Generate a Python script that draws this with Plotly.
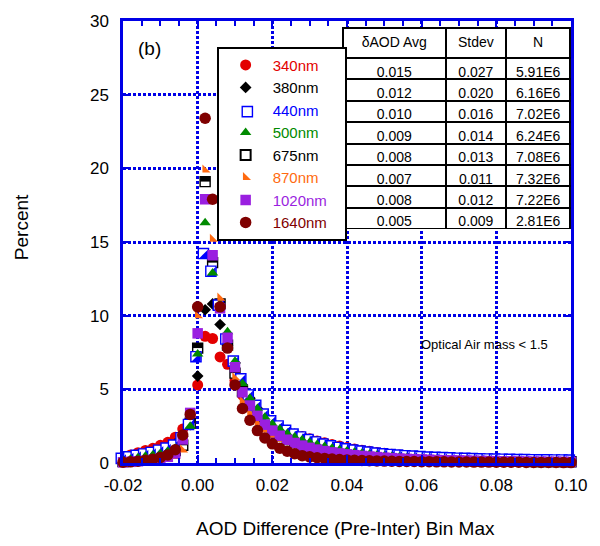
import plotly.graph_objects as go

# ---------------- data ----------------
x_bins = [-0.020, -0.018, -0.016, -0.014, -0.012, -0.010, -0.008, -0.006, -0.004, -0.002,
          0.000, 0.002, 0.004, 0.006, 0.008, 0.010, 0.012, 0.014, 0.016, 0.018,
          0.020, 0.022, 0.024, 0.026, 0.028, 0.030, 0.032, 0.034, 0.036, 0.038,
          0.040, 0.042, 0.044, 0.046, 0.048, 0.050, 0.052, 0.054, 0.056, 0.058,
          0.060, 0.062, 0.064, 0.066, 0.068, 0.070, 0.072, 0.074, 0.076, 0.078,
          0.080, 0.082, 0.084, 0.086, 0.088, 0.090, 0.092, 0.094, 0.096, 0.098,
          0.100]

pct_340 = [0.40, 0.55, 0.70, 0.85, 1.00, 1.20, 1.40, 1.75, 2.30, 3.00,
           5.30, 8.60, 8.45, 7.20, 6.70, 5.60, 4.60, 3.90, 3.30, 2.90,
           2.55, 2.30, 2.10, 1.95, 1.80, 1.65, 1.50, 1.38, 1.25, 1.15,
           1.05, 0.95, 0.87, 0.79, 0.72, 0.66, 0.60, 0.55, 0.50, 0.45,
           0.40, 0.38, 0.36, 0.34, 0.32, 0.30, 0.29, 0.28, 0.26, 0.25,
           0.24, 0.23, 0.22, 0.21, 0.20, 0.19, 0.18, 0.18, 0.17, 0.16,
           0.16]
pct_380 = [0.25, 0.35, 0.45, 0.55, 0.70, 0.85, 1.00, 1.30, 1.80, 2.60,
           5.90, 10.40, 10.80, 9.40, 8.00, 6.80, 5.30, 4.40, 3.70, 3.20,
           2.75, 2.45, 2.20, 1.95, 1.75, 1.58, 1.43, 1.30, 1.18, 1.07,
           0.97, 0.88, 0.80, 0.72, 0.65, 0.59, 0.54, 0.49, 0.44, 0.40,
           0.36, 0.34, 0.32, 0.30, 0.28, 0.27, 0.25, 0.24, 0.23, 0.22,
           0.21, 0.20, 0.19, 0.18, 0.17, 0.17, 0.16, 0.15, 0.15, 0.14,
           0.14]
pct_440 = [0.20, 0.30, 0.40, 0.50, 0.60, 0.75, 0.90, 1.10, 1.60, 2.50,
           7.10, 14.10, 12.90, 10.60, 8.30, 6.80, 5.60, 4.50, 3.80, 3.20,
           2.75, 2.40, 2.10, 1.85, 1.65, 1.47, 1.31, 1.17, 1.05, 0.94,
           0.85, 0.76, 0.69, 0.62, 0.56, 0.51, 0.46, 0.42, 0.38, 0.35,
           0.32, 0.29, 0.27, 0.25, 0.23, 0.21, 0.20, 0.18, 0.17, 0.16,
           0.15, 0.14, 0.13, 0.12, 0.12, 0.11, 0.10, 0.10, 0.09, 0.09,
           0.08]
pct_500 = [0.15, 0.25, 0.35, 0.45, 0.55, 0.65, 0.80, 1.00, 1.50, 2.50,
           7.40, 16.30, 12.90, 10.80, 8.90, 6.90, 5.40, 4.40, 3.70, 3.10,
           2.65, 2.30, 2.00, 1.77, 1.57, 1.40, 1.25, 1.12, 1.00, 0.90,
           0.81, 0.73, 0.66, 0.59, 0.53, 0.48, 0.44, 0.40, 0.36, 0.33,
           0.30, 0.27, 0.25, 0.23, 0.21, 0.19, 0.18, 0.17, 0.16, 0.15,
           0.14, 0.13, 0.12, 0.11, 0.11, 0.10, 0.09, 0.09, 0.08, 0.08,
           0.07]
pct_675 = [0.10, 0.20, 0.30, 0.40, 0.50, 0.60, 0.70, 0.85, 1.20, 2.70,
           7.80, 19.10, 13.60, 10.80, 8.00, 6.10, 4.85, 3.90, 3.22, 2.63,
           2.22, 1.87, 1.60, 1.38, 1.20, 1.05, 0.93, 0.83, 0.74, 0.67,
           0.61, 0.55, 0.50, 0.46, 0.42, 0.38, 0.35, 0.32, 0.30, 0.28,
           0.26, 0.24, 0.22, 0.21, 0.20, 0.19, 0.18, 0.17, 0.16, 0.15,
           0.14, 0.13, 0.12, 0.11, 0.11, 0.10, 0.10, 0.09, 0.09, 0.09,
           0.08]
pct_870 = [0.05, 0.08, 0.12, 0.16, 0.20, 0.25, 0.30, 0.45, 0.90, 3.30,
           10.00, 19.90, 15.20, 11.20, 7.80, 5.80, 4.20, 3.40, 2.75, 2.25,
           1.90, 1.62, 1.40, 1.22, 1.07, 0.95, 0.85, 0.76, 0.68, 0.61,
           0.55, 0.50, 0.45, 0.41, 0.37, 0.34, 0.31, 0.28, 0.26, 0.24,
           0.22, 0.20, 0.18, 0.17, 0.16, 0.15, 0.14, 0.13, 0.12, 0.11,
           0.10, 0.10, 0.09, 0.09, 0.08, 0.08, 0.07, 0.07, 0.07, 0.06,
           0.06]
pct_1020 = [0.05, 0.08, 0.12, 0.16, 0.22, 0.30, 0.42, 0.65, 1.60, 3.40,
            8.80, 17.90, 14.10, 10.50, 8.50, 6.50, 4.80, 3.90, 3.20, 2.60,
            2.20, 1.85, 1.58, 1.36, 1.18, 1.03, 0.91, 0.81, 0.72, 0.65,
            0.59, 0.53, 0.48, 0.44, 0.40, 0.36, 0.33, 0.30, 0.28, 0.26,
            0.24, 0.22, 0.20, 0.19, 0.18, 0.17, 0.16, 0.15, 0.14, 0.13,
            0.12, 0.11, 0.11, 0.10, 0.10, 0.09, 0.09, 0.08, 0.08, 0.08,
            0.07]
pct_1640 = [0.05, 0.08, 0.12, 0.18, 0.26, 0.38, 0.55, 0.90, 1.90, 3.30,
            10.60, 23.40, 17.90, 10.60, 7.80, 5.30, 3.70, 2.90, 2.20, 1.70,
            1.30, 1.00, 0.80, 0.63, 0.50, 0.42, 0.36, 0.31, 0.27, 0.24,
            0.21, 0.19, 0.17, 0.15, 0.14, 0.13, 0.12, 0.11, 0.10, 0.10,
            0.09, 0.09, 0.08, 0.08, 0.07, 0.07, 0.07, 0.06, 0.06, 0.06,
            0.05, 0.05, 0.05, 0.05, 0.04, 0.04, 0.04, 0.04, 0.04, 0.03,
            0.03]

names = ["340nm", "380nm", "440nm", "500nm", "675nm", "870nm", "1020nm", "1640nm"]

table_header = ["\u03b4AOD Avg", "Stdev", "N"]
aod_avg = ["0.015", "0.012", "0.010", "0.009", "0.008", "0.007", "0.008", "0.005"]
aod_std = ["0.027", "0.020", "0.016", "0.014", "0.013", "0.011", "0.012", "0.009"]
n_obs = ["5.91E6", "6.16E6", "7.02E6", "6.24E6", "7.08E6", "7.32E6", "7.22E6", "2.81E6"]

x_tickvals = [-0.02, 0.00, 0.02, 0.04, 0.06, 0.08, 0.10]
x_ticktext = ["-0.02", "0.00", "0.02", "0.04", "0.06", "0.08", "0.10"]
y_tickvals = [0, 5, 10, 15, 20, 25, 30]

# ---------------- style ----------------
FONT = "Liberation Sans, Arial, sans-serif"
BLUE = "#0000e6"
C_RED = "#e30000"
C_BLUE = "#0000ff"
C_GREEN = "#008a00"
C_ORANGE = "#ff6a10"
C_PURPLE = "#9a1fe0"
C_BROWN = "#7f0000"


def lname(name, color):
    return '<span style="color:%s">%s</span>&nbsp;&nbsp;&nbsp;' % (color, name)


fig = go.Figure()


def add(x, y, name, color, marker, showlegend=True):
    fig.add_trace(go.Scatter(
        x=x, y=y, mode="markers", name=lname(name, color),
        showlegend=showlegend, cliponaxis=False, marker=marker))


# 340nm
add(x_bins, pct_340, names[0], C_RED, dict(symbol="circle", size=11, color=C_RED, line=dict(width=0)))
# 380nm
add(x_bins, pct_380, names[1], "black", dict(symbol="diamond", size=9, color="black", line=dict(width=0)))
# 675nm drawn beneath 440/500 (square with top half black)
add(x_bins, pct_675, names[4], "black", dict(symbol="square", size=10, color="white",
                                             line=dict(color="black", width=1.4)), showlegend=False)
add(x_bins, pct_675, names[4], "black", dict(symbol="line-ew", size=7.1, angle=180, standoff=2.5,
                                             color="black", line=dict(color="black", width=5)),
    showlegend=False)
# 440nm: square outline + lower-right half filled
add(x_bins, pct_440, names[2], C_BLUE, dict(symbol="diamond", size=11.1, angle=135, standoff=2.4,
                                            color="white", line=dict(color=C_BLUE, width=1.4)))
add(x_bins, pct_440, names[2], C_BLUE, dict(symbol="triangle-se", size=9.8, color=C_BLUE,
                                            line=dict(width=0)), showlegend=False)
# 500nm
add(x_bins, pct_500, names[3], C_GREEN, dict(symbol="triangle-up", size=10, color=C_GREEN, line=dict(width=0)))
# 675nm legend entry only
add([None], [None], names[4], "black", dict(symbol="square", size=10, color="white",
                                            line=dict(color="black", width=2)))
# 870nm
add(x_bins, pct_870, names[5], C_ORANGE, dict(symbol="triangle-sw", size=9, color=C_ORANGE, line=dict(width=0)))
# 1020nm
add(x_bins, pct_1020, names[6], C_PURPLE, dict(symbol="square", size=10.5, color=C_PURPLE, line=dict(width=0)))
# 1640nm
add(x_bins, pct_1640, names[7], C_BROWN, dict(symbol="circle", size=11.5, color=C_BROWN, line=dict(width=0)))

# statistics table
fig.add_trace(go.Table(
    domain=dict(x=[0.491, 0.998], y=[0.527, 0.984]),
    columnwidth=[103, 61, 64],
    header=dict(values=table_header, height=30, align="center",
                fill_color="white", line=dict(color="black", width=2),
                font=dict(family=FONT, size=14, color="black")),
    cells=dict(values=[aod_avg, aod_std, n_obs], height=21.4, align="center",
               fill_color="white", line=dict(color="black", width=2),
               font=dict(family=FONT, size=14, color="black")),
))

axis_common = dict(
    showline=True, linecolor=BLUE, linewidth=2.5, mirror="ticks",
    showgrid=True, gridcolor=BLUE, gridwidth=2.5, griddash="3px,2px",
    zeroline=False, ticks="inside", tickcolor=BLUE, tickwidth=2, ticklen=8,
    tickfont=dict(family=FONT, size=17, color="black"),
)

fig.update_layout(
    width=600, height=546,
    margin=dict(l=123, r=27, t=15, b=83),
    paper_bgcolor="white", plot_bgcolor="white",
    font=dict(family=FONT, color="black"),
    xaxis=dict(range=[-0.02, 0.10], tickvals=x_tickvals, ticktext=x_ticktext,
               ticklabelstandoff=5,
               minor=dict(dtick=0.005, tick0=0, ticks="inside", ticklen=5,
                          tickcolor=BLUE, tickwidth=2, showgrid=False),
               **axis_common),
    yaxis=dict(range=[0, 30], tickvals=y_tickvals, ticklabelstandoff=8, **axis_common),
    legend=dict(x=0.209, y=0.942, xanchor="left", yanchor="top",
                bgcolor="white", bordercolor="black", borderwidth=2,
                font=dict(family=FONT, size=15), itemwidth=44,
                tracegroupgap=0, traceorder="normal"),
    showlegend=True,
    annotations=[
        dict(text="(b)", x=0.06, y=0.938, xref="paper", yref="paper",
             xanchor="center", yanchor="middle",
             showarrow=False, font=dict(size=19, family=FONT)),
        dict(text="Optical Air mass < 1.5", x=0.806, y=0.268, xref="paper", yref="paper",
             xanchor="center", yanchor="middle",
             showarrow=False, font=dict(size=13, family=FONT)),
        dict(text="AOD Difference (Pre-Inter) Bin Max", x=0.497, y=-0.149,
             xref="paper", yref="paper", xanchor="center", yanchor="middle",
             showarrow=False, font=dict(size=19, family=FONT)),
        dict(text="Percent", x=-0.226, y=0.533, xref="paper", yref="paper",
             xanchor="center", yanchor="middle",
             textangle=-90, showarrow=False, font=dict(size=19, family=FONT)),
    ],
)

fig.write_html("out.html")
